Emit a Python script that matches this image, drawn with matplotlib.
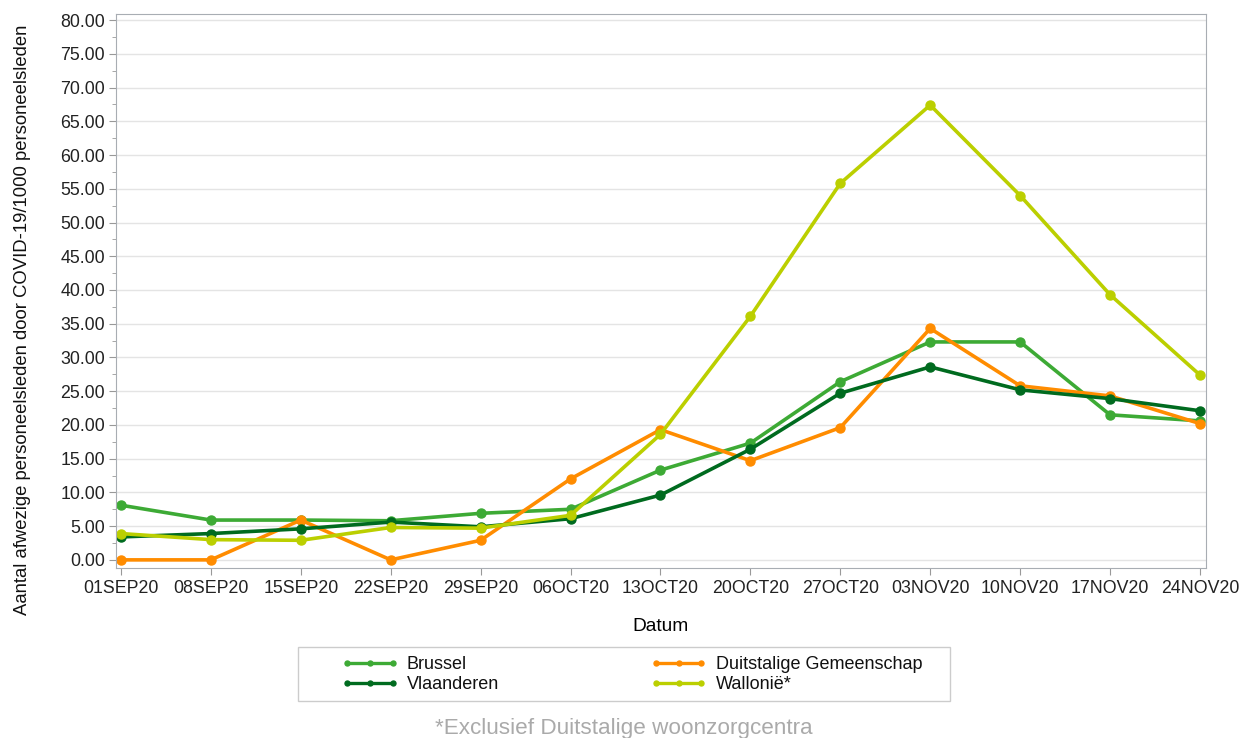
import matplotlib.pyplot as plt
import matplotlib.patches as patches
import numpy as np
from matplotlib.ticker import MultipleLocator, FormatStrFormatter

plt.rcParams['font.family'] = ['Liberation Sans', 'DejaVu Sans']

datums = ['01SEP20', '08SEP20', '15SEP20', '22SEP20', '29SEP20', '06OCT20', '13OCT20',
          '20OCT20', '27OCT20', '03NOV20', '10NOV20', '17NOV20', '24NOV20']

brussel = [8.1, 5.9, 5.9, 5.8, 6.9, 7.5, 13.3, 17.3, 26.4, 32.3, 32.3, 21.5, 20.6]
vlaanderen = [3.4, 3.9, 4.6, 5.6, 4.9, 6.1, 9.6, 16.4, 24.7, 28.6, 25.2, 23.9, 22.1]
duitstalig = [0.0, 0.0, 5.9, 0.0, 2.9, 12.0, 19.3, 14.7, 19.6, 34.3, 25.8, 24.3, 20.2]
wallonie = [3.9, 3.0, 2.9, 4.8, 4.7, 6.6, 18.6, 36.1, 55.8, 67.4, 54.0, 39.3, 27.4]

kleuren = {'Brussel': '#3DAA35', 'Vlaanderen': '#006B1F',
           'Duitstalige Gemeenschap': '#FF8C00', 'Wallonië*': '#BBCF00'}

W, H = 1242, 738
fig = plt.figure(figsize=(W / 100, H / 100), dpi=100)
ax = fig.add_axes([0.0934, 0.2304, 0.8776, 0.7506])

x = np.arange(len(datums))
stijl = dict(linewidth=2.6, marker='o', markersize=6.5)
lb, = ax.plot(x, brussel, color=kleuren['Brussel'], label='Brussel', **stijl)
ld, = ax.plot(x, duitstalig, color=kleuren['Duitstalige Gemeenschap'],
              label='Duitstalige Gemeenschap', **stijl)
lv, = ax.plot(x, vlaanderen, color=kleuren['Vlaanderen'], label='Vlaanderen', **stijl)
lw, = ax.plot(x, wallonie, color=kleuren['Wallonië*'], label='Wallonië*', **stijl)

ax.set_xlim(-0.055, 12.067)
ax.set_ylim(-1.2, 80.9)
ax.set_xticks(x)
ax.set_xticklabels(datums)
ax.yaxis.set_major_locator(MultipleLocator(5))
ax.yaxis.set_minor_locator(MultipleLocator(2.5))
ax.yaxis.set_major_formatter(FormatStrFormatter('%.2f'))
ax.tick_params(axis='both', labelsize=12.8, colors='#222222', length=5, color='#999999')
ax.tick_params(axis='y', which='minor', length=3, color='#999999')
ax.tick_params(axis='y', pad=3)
ax.grid(axis='y', color='#e4e4e4', linewidth=1)
ax.set_axisbelow(True)
for s in ax.spines.values():
    s.set_color('#a8adb3')

ax.set_xlabel('Datum', fontsize=13.8, labelpad=15)
fig.text(23 / W, 1 - 320 / H,
         'Aantal afwezige personeelsleden door COVID-19/1000 personeelsleden',
         rotation=90, ha='center', va='center', fontsize=13.3, color='#111111')

# legendekader
fig.patches.append(patches.Rectangle((298 / W, 1 - 701 / H), 652 / W, 54 / H,
                                     transform=fig.transFigure, fill=False,
                                     edgecolor='#cccccc', linewidth=1))

leg = fig.legend(handles=[lb, lv, ld, lw], ncol=2, loc='upper left',
                 bbox_to_anchor=(342 / W, 1 - 656 / H), bbox_transform=fig.transFigure,
                 fontsize=13, numpoints=3, handlelength=3.1, markerscale=0.55,
                 frameon=False, columnspacing=8.4, borderpad=0, labelspacing=0.17,
                 handletextpad=0.5, borderaxespad=0)
for h in leg.legend_handles:
    h.set_linewidth(2.4)
for t in leg.get_texts():
    t.set_color('#111111')

fig.text(0.5025, 0.006, '*Exclusief Duitstalige woonzorgcentra', ha='center',
         fontsize=16.2, color='#aaaaaa')

fig.savefig('out.png', dpi=100)
